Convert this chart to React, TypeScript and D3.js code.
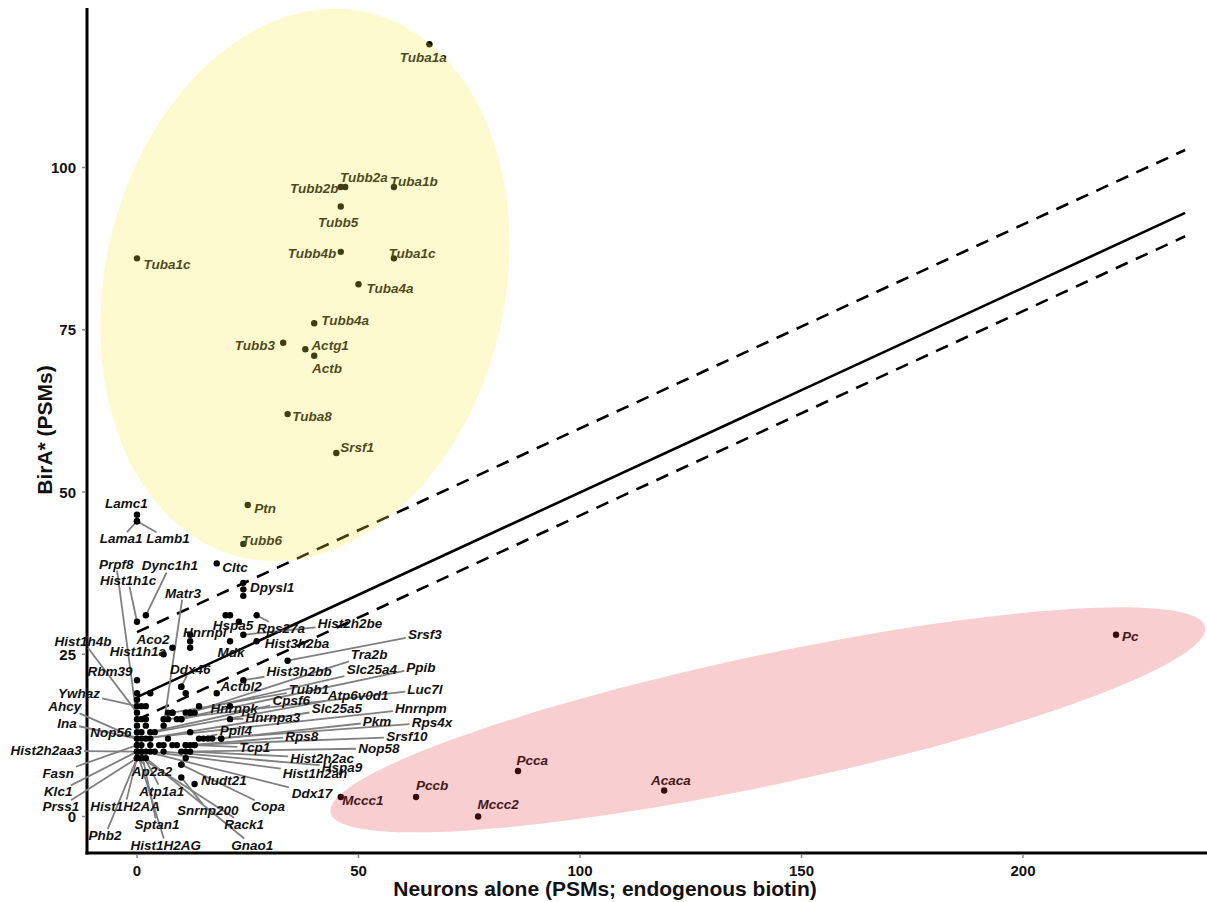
import React, { useEffect, useRef } from "react";
import * as d3 from "d3";

const W = 1207;
const H = 902;

const xTicks = [0, 50, 100, 150, 200];
const yTicks = [0, 25, 50, 75, 100];
const xTitle = "Neurons alone (PSMs; endogenous biotin)";
const yTitle = "BirA* (PSMs)";

// Cytoskeletal / highly enriched proteins: [gene, neurons alone, BirA*]
const enriched: [string, number, number][] = [
  ["Tuba1a", 66, 119],
  ["Tubb2b", 46, 97],
  ["Tubb2a", 47, 97],
  ["Tuba1b", 58, 97],
  ["Tubb5", 46, 94],
  ["Tubb4b", 46, 87],
  ["Tuba1c", 58, 86],
  ["Tuba1c", 0, 86],
  ["Tuba4a", 50, 82],
  ["Tubb4a", 40, 76],
  ["Tubb3", 33, 73],
  ["Actg1", 38, 72],
  ["Actb", 40, 71],
  ["Tuba8", 34, 62],
  ["Srsf1", 45, 56],
  ["Ptn", 25, 48],
  ["Tubb6", 24, 42],
];
const enrichedLabelAt: [number, number][] = [
  [64.6, 116.9], [40.0, 96.7], [51.2, 98.5], [62.5, 97.8], [45.4, 91.6],
  [39.5, 86.8], [62.1, 86.8], [6.8, 85.1], [57.1, 81.4], [47.0, 76.5],
  [26.6, 72.5], [43.6, 72.5], [42.9, 69.1], [39.5, 61.7], [49.7, 56.8],
  [28.9, 47.5], [28.2, 42.6],
];

// Endogenously biotinylated carboxylases
const carboxylases: [string, number, number][] = [
  ["Pc", 221, 28],
  ["Pcca", 86, 7],
  ["Acaca", 119, 4],
  ["Pccb", 63, 3],
  ["Mccc2", 77, 0],
  ["Mccc1", 46, 3],
];
const carboxylaseLabelAt: [number, number][] = [
  [224.2, 27.8], [89.2, 8.7], [120.5, 5.5], [66.6, 4.7], [81.5, 1.8], [51.0, 2.4],
];

// Remaining proteins near the origin
const others: [string, number, number][] = [
  ["Lamc1", 0, 46.5], ["Lama1", 0, 45.5], ["Lamb1", 0, 45.5],
  ["Prpf8", 0, 15], ["Hist1h1c", 0, 30], ["Dync1h1", 2, 31], ["Matr3", 6, 14],
  ["Cltc", 18, 39], ["Dpysl1", 24, 35], ["Hist1h4b", 0, 16], ["Aco2", 8, 26],
  ["Hist1h1a", 6, 25], ["Hnrnpl", 12, 27], ["Hspa5", 23, 30], ["Rps27a", 27, 31],
  ["Hist2h2be", 24, 28], ["Hist3h2ba", 27, 27], ["Srsf3", 34, 24], ["Mdk", 21, 27],
  ["Ddx46", 10, 20], ["Tra2b", 12, 16], ["Hist3h2bb", 24, 21], ["Slc25a4", 11, 16],
  ["Ppib", 9, 15], ["Rbm39", 0, 21], ["Actbl2", 18, 19], ["Tubb1", 8, 16],
  ["Atp6v0d1", 4, 13], ["Luc7l", 7, 15], ["Ywhaz", 0, 17], ["Cpsf6", 3, 13],
  ["Ahcy", 0, 12], ["Hnrnpk", 10, 15], ["Slc25a5", 2, 12], ["Hnrnpm", 1, 12],
  ["Hnrnpa3", 21, 15], ["Pkm", 19, 12], ["Rps4x", 17, 12], ["Ina", 0, 12],
  ["Ppil4", 14, 12], ["Nop56", 0, 13], ["Rps8", 12, 11], ["Srsf10", 11, 11],
  ["Tcp1", 13, 11], ["Nop58", 11, 10], ["Hist2h2aa3", 0, 10], ["Hist2h2ac", 12, 10],
  ["Hspa9", 6, 10], ["Ap2a2", 0, 9], ["Fasn", 0, 11], ["Hist1h2ah", 3, 10],
  ["Nudt21", 13, 5], ["Atp1a1", 1, 10], ["Klc1", 0, 10], ["Ddx17", 2, 10],
  ["Hist1H2AA", 0, 9], ["Prss1", 0, 9], ["Copa", 10, 8], ["Snrnp200", 10, 6],
  ["Rack1", 1, 9], ["Sptan1", 1, 10], ["Phb2", 0, 9], ["Hist1H2AG", 0, 10],
  ["Gnao1", 2, 9],
];
const othersLabelAt: [number, number][] = [
  [-2.4, 48.3], [-3.6, 42.8], [7.0, 42.8],
  [-4.7, 38.9], [-2.0, 36.4], [7.4, 38.6], [10.4, 34.4],
  [22.1, 38.4], [30.5, 35.3], [-12.2, 27.0], [3.6, 27.2],
  [0.2, 25.4], [15.3, 28.3], [21.7, 29.4], [32.5, 29.0],
  [48.1, 29.7], [36.1, 26.6], [65.0, 28.1], [21.2, 25.3],
  [12.0, 22.7], [52.4, 24.9], [36.6, 22.4], [53.0, 22.6],
  [64.1, 23.0], [-6.1, 22.3], [23.5, 20.1], [38.8, 19.6],
  [49.9, 18.7], [65.0, 19.6], [-13.1, 19.0], [34.8, 17.8],
  [-16.3, 16.9], [21.9, 16.7], [45.1, 16.7], [64.1, 16.7],
  [30.7, 15.2], [54.2, 14.6], [66.6, 14.5], [-15.8, 14.3],
  [22.3, 13.3], [-5.9, 13.0], [37.2, 12.4], [60.9, 12.3],
  [26.6, 10.6], [54.6, 10.5], [-20.5, 10.1], [41.8, 9.0],
  [46.3, 7.6], [3.4, 7.0], [-17.8, 6.7], [40.2, 6.7],
  [19.6, 5.6], [5.6, 3.9], [-17.8, 3.8], [39.5, 3.6],
  [-2.7, 1.6], [-17.2, 1.5], [29.6, 1.5], [16.0, 0.9],
  [24.2, -1.2], [4.5, -1.3], [-7.2, -2.9], [6.5, -4.4],
  [26.0, -4.4],
];

// Unlabelled proteins
const unlabelled: [number, number][] = [
  [20, 31], [21, 31], [24, 36], [24, 34], [0, 19], [0, 18], [3, 19], [1, 17],
  [2, 17], [2, 15], [6, 15], [7, 16], [8, 16], [10, 15], [1, 13], [3, 12],
  [12, 13], [0, 11], [3, 11], [6, 11], [9, 11], [10, 10], [11, 11], [13, 11],
  [10, 8], [12, 28], [12, 26], [11, 19], [14, 17], [12, 16], [13, 16], [21, 17],
  [15, 12], [16, 12], [19, 12], [11, 9], [10, 20], [2, 14], [1, 11], [4, 10],
  [0, 14], [1, 15], [5, 11], [7, 12], [8, 11],
];

// Linear fit with upper / lower bands: [x, y] end points
const fitLine: [number, number][] = [[0, 18.4], [236.6, 93.0]];
const upperBand: [number, number][] = [[0, 28.4], [236.6, 102.7]];
const lowerBand: [number, number][] = [[0, 14.9], [236.6, 89.4]];

// Highlight ellipses in data units: centre, half-axes, tilt (deg)
const cytoEllipse = { cx: 37.9, cy: 81.9, rx: 45.1, ry: 43.1, tilt: 13 };
const carbEllipse = { cx: 142.4, cy: 14.9, rx: 100.9, ry: 10.0, tilt: -12 };

export default function App() {
  const ref = useRef<SVGSVGElement | null>(null);

  useEffect(() => {
    const svg = d3.select(ref.current);
    svg.selectAll("*").remove();

    const left = 87, right = 1207, top = 8, bottom = 853;
    // zero sits at 137px / 816.5px; 4.43 px per x unit, 6.49 px per y unit
    const x = d3.scaleLinear().domain([(left - 137) / 4.43, (right - 137) / 4.43]).range([left, right]);
    const y = d3.scaleLinear().domain([(816.5 - bottom) / 6.49, (816.5 - top) / 6.49]).range([bottom, top]);

    const font = "'Liberation Sans', Arial, sans-serif";

    // axis lines
    svg.append("line").attr("x1", left).attr("x2", left).attr("y1", top).attr("y2", bottom + 1.5)
      .attr("stroke", "#000").attr("stroke-width", 3);
    svg.append("line").attr("x1", left - 1.5).attr("x2", right).attr("y1", bottom).attr("y2", bottom)
      .attr("stroke", "#000").attr("stroke-width", 3);

    // ticks
    xTicks.forEach((t) => {
      svg.append("line").attr("x1", x(t)).attr("x2", x(t)).attr("y1", bottom + 1.5).attr("y2", bottom + 5)
        .attr("stroke", "#888").attr("stroke-width", 1.5);
      svg.append("text").attr("x", x(t)).attr("y", 876).attr("text-anchor", "middle")
        .attr("font-family", font).attr("font-weight", "bold").attr("font-size", 15)
        .attr("fill", "#111").text(t);
    });
    yTicks.forEach((t) => {
      svg.append("line").attr("x1", left - 5).attr("x2", left - 1.5).attr("y1", y(t)).attr("y2", y(t))
        .attr("stroke", "#888").attr("stroke-width", 1.5);
      svg.append("text").attr("x", 76).attr("y", y(t) + 5.5).attr("text-anchor", "end")
        .attr("font-family", font).attr("font-weight", "bold").attr("font-size", 15)
        .attr("fill", "#111").text(t);
    });

    svg.append("text").attr("x", 605).attr("y", 896).attr("text-anchor", "middle")
      .attr("font-family", font).attr("font-weight", "bold").attr("font-size", 21)
      .attr("fill", "#111").text(xTitle);
    svg.append("text").attr("transform", `translate(52,430) rotate(-90)`).attr("text-anchor", "middle")
      .attr("font-family", font).attr("font-weight", "bold").attr("font-size", 21)
      .attr("fill", "#111").text(yTitle);

    // fit lines
    const line = d3.line<[number, number]>().x((d) => x(d[0])).y((d) => y(d[1]));
    svg.append("path").attr("d", line(upperBand)).attr("fill", "none").attr("stroke", "#000")
      .attr("stroke-width", 2.6).attr("stroke-dasharray", "13 9");
    svg.append("path").attr("d", line(lowerBand)).attr("fill", "none").attr("stroke", "#000")
      .attr("stroke-width", 2.6).attr("stroke-dasharray", "13 9");
    svg.append("path").attr("d", line(fitLine)).attr("fill", "none").attr("stroke", "#000")
      .attr("stroke-width", 2.6);

    const segLayer = svg.append("g");
    const pointLayer = svg.append("g");
    const labelLayer = svg.append("g");

    type Lab = { name: string; px: number; py: number; lx: number; ly: number; seg: boolean };
    const all: Lab[] = [];
    const add = (rows: [string, number, number][], at: [number, number][], seg: boolean) =>
      rows.forEach((r, i) =>
        all.push({ name: r[0], px: x(r[1]), py: y(r[2]), lx: x(at[i][0]), ly: y(at[i][1]), seg }));
    add(enriched, enrichedLabelAt, false);
    add(carboxylases, carboxylaseLabelAt, false);
    add(others, othersLabelAt, true);

    pointLayer.selectAll("circle.u").data(unlabelled).join("circle")
      .attr("cx", (d) => x(d[0])).attr("cy", (d) => y(d[1])).attr("r", 3.2).attr("fill", "#000");
    pointLayer.selectAll("circle.l").data(all).join("circle")
      .attr("cx", (d) => d.px).attr("cy", (d) => d.py).attr("r", 3.2).attr("fill", "#000");

    all.forEach((d) => {
      const t = labelLayer.append("text").attr("x", d.lx).attr("y", d.ly)
        .attr("text-anchor", "middle").attr("dominant-baseline", "central")
        .attr("font-family", font).attr("font-weight", "bold").attr("font-style", "italic")
        .attr("font-size", 13.5).attr("fill", "#111").text(d.name);
      if (!d.seg) return;
      const node = t.node() as SVGTextElement;
      const bb = node.getBBox();
      const hw = bb.width / 2 + 2;
      const hh = bb.height / 2 - 1;
      const dx = d.px - d.lx;
      const dy = d.py - d.ly;
      const tx = dx === 0 ? Infinity : hw / Math.abs(dx);
      const ty = dy === 0 ? Infinity : hh / Math.abs(dy);
      const tt = Math.min(tx, ty);
      if (tt >= 1) return;
      const sx = d.lx + dx * tt;
      const sy = d.ly + dy * tt;
      if (Math.hypot(d.px - sx, d.py - sy) < 8) return;
      segLayer.append("line").attr("x1", sx).attr("y1", sy).attr("x2", d.px).attr("y2", d.py)
        .attr("stroke", "#808080").attr("stroke-width", 1.8);
    });

    // translucent highlight ellipses
    const drawEllipse = (e: typeof cytoEllipse, fill: string, op: number) => {
      const rxPx = x(e.rx) - x(0);
      const ryPx = y(0) - y(e.ry);
      svg.append("ellipse")
        .attr("transform", `translate(${x(e.cx)},${y(e.cy)}) rotate(${e.tilt})`)
        .attr("rx", rxPx).attr("ry", ryPx).attr("fill", fill).attr("fill-opacity", op);
    };
    drawEllipse(cytoEllipse, "rgb(248,236,70)", 0.26);
    drawEllipse(carbEllipse, "rgb(226,50,58)", 0.24);
  }, []);

  return (
    <svg ref={ref} width={W} height={H}
      style={{ position: "absolute", left: 0, top: 0, background: "#fff" }} />
  );
}
